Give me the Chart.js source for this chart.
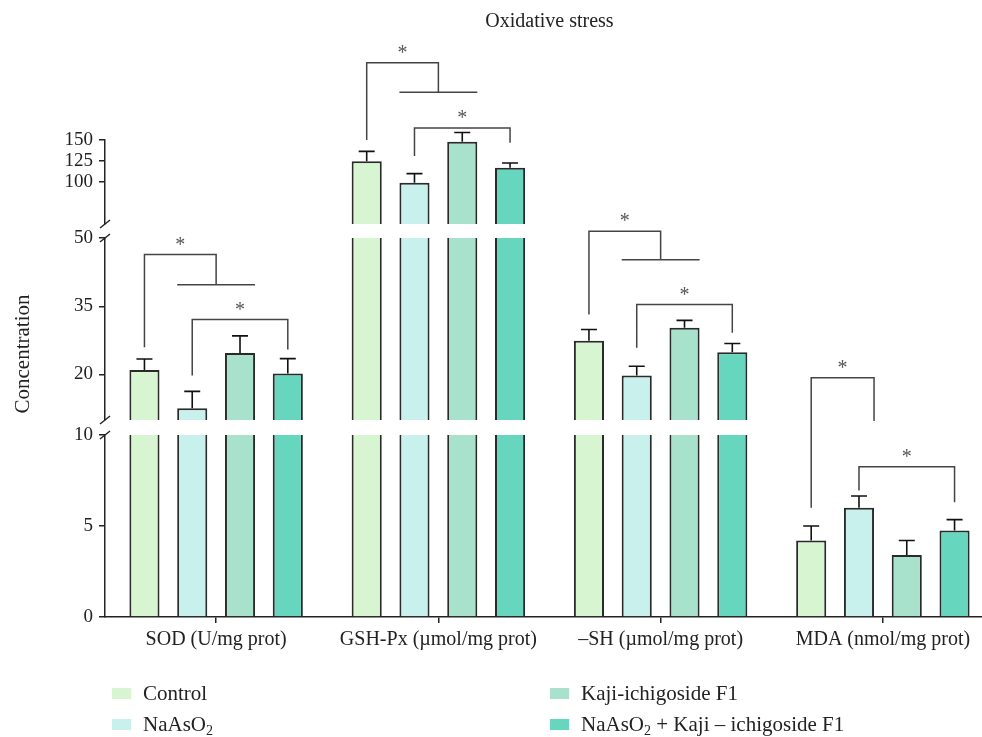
<!DOCTYPE html>
<html>
<head>
<meta charset="utf-8">
<script src="https://cdn.jsdelivr.net/npm/chart.js@4.4.1/dist/chart.umd.min.js"></script>
<style>
  html, body { margin: 0; padding: 0; background: #fff; }
  #wrap { position: relative; width: 982px; height: 737px; overflow: hidden; background: #fff; }
  #wrap canvas { position: absolute; left: 0; top: 0; }
  .item { position: absolute; display: flex; align-items: center; height: 24px;
          font-family: "Liberation Serif", serif; font-size: 21px; color: #222; white-space: nowrap; }
  .item .box { width: 19px; height: 11px; margin-right: 12px; }
  .item sub { font-size: 14px; vertical-align: -4px; line-height: 0; }
</style>
</head>
<body>
<div id="wrap"></div>
<script>
// categories and groups
var categories = ['SOD (U/mg prot)', 'GSH-Px (\u00b5mol/mg prot)', '\u2013SH (\u00b5mol/mg prot)', 'MDA (nmol/mg prot)'];
var groups = ['Control', 'NaAsO\u2082', 'Kaji-ichigoside F1', 'NaAsO\u2082 + Kaji \u2013 ichigoside F1'];
var groupsHtml = ['Control', 'NaAsO<sub>2</sub>', 'Kaji-ichigoside F1', 'NaAsO<sub>2</sub> + Kaji \u2013 ichigoside F1'];
var colors = ['#d8f5d2', '#c8f0ec', '#a8e2cc', '#66d6be'];

// means
var controlVals = [21.0, 124.6, 27.4, 4.2];
var naaso2Vals  = [12.6, 99.2, 19.8, 6.0];
var kajiVals    = [24.7, 148, 30.3, 3.4];
var comboVals   = [20.2, 117, 24.9, 4.75];
// upper error bars
var controlErr = [2.4, 11.9, 2.5, 0.8];
var naaso2Err  = [3.7, 10.8, 2.0, 0.65];
var kajiErr    = [3.8, 11, 1.6, 0.8];
var comboErr   = [3.3, 5.6, 1.9, 0.6];

// broken y axis: top / middle / bottom pieces
var segTicks = [[100, 125, 150], [20, 35, 50], [0, 5, 10]];
var segRange = [[50, 150], [10, 50], [0, 10]];

// significance brackets (y in data units of a segment: 0 top, 1 middle, 2 bottom)
var brackets = [
  { cat: 0, a: {d: 0}, b: 'mid', y: [1, 46.4], aEnd: [1, 26.0], bEnd: [1, 39.7], sub: [{d: 1, e: -0.5}, {d: 2, e: 0.5}] },
  { cat: 0, a: {d: 1}, b: {d: 3}, y: [1, 32.1], aEnd: [1, 19.8], bEnd: [1, 25.5] },
  { cat: 1, a: {d: 0}, b: 'mid', y: [0, 242], aEnd: [0, 150], bEnd: [0, 206.8], sub: [{d: 1, e: -0.5}, {d: 2, e: 0.5}] },
  { cat: 1, a: {d: 1}, b: {d: 3}, y: [0, 164.3], aEnd: [0, 131], bEnd: [0, 146.8] },
  { cat: 2, a: {d: 0}, b: 'mid', y: [1, 51.5], aEnd: [1, 33.2], bEnd: [1, 45.2], sub: [{d: 1, e: -0.5}, {d: 2, e: 0.5}] },
  { cat: 2, a: {d: 1}, b: {d: 3}, y: [1, 35.4], aEnd: [1, 25.9], bEnd: [1, 29.2] },
  { cat: 3, a: {d: 0}, b: {d: 1, e: 0.5}, y: [1, 19.3], aEnd: [2, 6.0], bEnd: [1, 9.8] },
  { cat: 3, a: {d: 1}, b: {d: 3}, y: [2, 8.25], aEnd: [2, 6.95], bEnd: [2, 6.3] }
];

var W = 1000, H = 737;
var areaTop = [140, 238, 435];
var areaBottom = [224, 420, 617];
var serif = '"Liberation Serif", serif';
var ink = '#222';
var charts = [];

function makeDatasets() {
  var vals = [controlVals, naaso2Vals, kajiVals, comboVals];
  var errs = [controlErr, naaso2Err, kajiErr, comboErr];
  return vals.map(function (v, i) {
    return {
      label: groups[i],
      data: v,
      errors: errs[i],
      backgroundColor: colors[i],
      borderColor: '#2a2a2a',
      borderWidth: 2,
      borderSkipped: 'start',
      barPercentage: 0.63,
      categoryPercentage: 0.86,
      clip: 0
    };
  });
}

// upward error bars
var errorBars = {
  id: 'errorBars',
  afterDatasetsDraw: function (chart) {
    var ctx = chart.ctx, ys = chart.scales.y;
    ctx.save();
    ctx.strokeStyle = '#111';
    ctx.lineWidth = 1.6;
    chart.data.datasets.forEach(function (ds, d) {
      chart.getDatasetMeta(d).data.forEach(function (bar, i) {
        var v = ds.data[i], e = ds.errors[i];
        if (v < ys.min || v > ys.max) return;
        var y0 = ys.getPixelForValue(v), y1 = ys.getPixelForValue(v + e);
        ctx.beginPath();
        ctx.moveTo(bar.x, y0);
        ctx.lineTo(bar.x, y1);
        ctx.moveTo(bar.x - 8, y1);
        ctx.lineTo(bar.x + 8, y1);
        ctx.stroke();
      });
    });
    ctx.restore();
  }
};

// slashes where the axis is broken
var axisBreaks = {
  id: 'axisBreaks',
  afterDraw: function (chart) {
    var idx = chart.options.segIndex, a = chart.chartArea, ctx = chart.ctx;
    var ends = [];
    if (idx > 0) ends.push(a.top);
    if (idx < 2) ends.push(a.bottom);
    ctx.save();
    ctx.strokeStyle = ink;
    ctx.lineWidth = 1.5;
    ends.forEach(function (y) {
      ctx.beginPath();
      ctx.moveTo(a.left - 5, y + 4);
      ctx.lineTo(a.left + 5, y - 4);
      ctx.stroke();
    });
    ctx.restore();
  }
};

function xOf(chart, spec, cat) {
  if (spec === 'mid') return chart.scales.x.getPixelForValue(cat);
  var bar = chart.getDatasetMeta(spec.d).data[cat];
  return bar.x + (spec.e || 0) * bar.width;
}
function yOf(chart, p) {
  var c = p[0] === 2 ? chart : charts[p[0]];
  return c.scales.y.getPixelForValue(p[1]);
}

var sigBrackets = {
  id: 'sigBrackets',
  afterDraw: function (chart) {
    if (chart.options.segIndex !== 2) return;
    var ctx = chart.ctx;
    ctx.save();
    ctx.strokeStyle = '#444';
    ctx.lineWidth = 1.5;
    ctx.fillStyle = '#555';
    ctx.font = '20px ' + serif;
    ctx.textAlign = 'center';
    ctx.textBaseline = 'middle';
    brackets.forEach(function (b) {
      var xa = xOf(chart, b.a, b.cat), xb = xOf(chart, b.b, b.cat);
      var y = yOf(chart, b.y), ya = yOf(chart, b.aEnd), yb = yOf(chart, b.bEnd);
      ctx.beginPath();
      ctx.moveTo(xa, ya);
      ctx.lineTo(xa, y);
      ctx.lineTo(xb, y);
      ctx.lineTo(xb, yb);
      if (b.sub) {
        ctx.moveTo(xOf(chart, b.sub[0], b.cat), yb);
        ctx.lineTo(xOf(chart, b.sub[1], b.cat), yb);
      }
      ctx.stroke();
      ctx.fillText('*', (xa + xb) / 2, y - 9);
    });
    ctx.restore();
  }
};

var yTitle = {
  id: 'yTitle',
  afterDraw: function (chart) {
    if (chart.options.segIndex !== 1) return;
    var ctx = chart.ctx;
    ctx.save();
    ctx.translate(23, 354);
    ctx.rotate(-Math.PI / 2);
    ctx.font = '21px ' + serif;
    ctx.fillStyle = ink;
    ctx.textAlign = 'center';
    ctx.textBaseline = 'middle';
    ctx.fillText('Concentration', 0, 0);
    ctx.restore();
  }
};

function xScale(idx) {
  if (idx === 0) {
    return {
      position: 'top',
      ticks: { display: false },
      grid: { display: false, drawTicks: false },
      border: { display: false },
      title: {
        display: true, text: 'Oxidative stress', color: ink,
        font: { family: serif, size: 20 },
        padding: { top: 10, bottom: areaTop[0] - 10 - 24 }
      }
    };
  }
  if (idx === 1) return { display: false };
  return {
    position: 'bottom',
    grid: { drawOnChartArea: false, offset: false, tickLength: 6, color: ink, lineWidth: 1.5 },
    border: { color: ink, width: 1.5 },
    ticks: { color: ink, font: { family: serif, size: 20 }, padding: 5, maxRotation: 0 },
    afterFit: function (s) { s.height = H - areaBottom[2]; }
  };
}

for (var k = 0; k < 3; k++) {
  (function (idx) {
    var canvas = document.createElement('canvas');
    canvas.width = W;
    canvas.height = H;
    document.getElementById('wrap').appendChild(canvas);
    var chart = new Chart(canvas.getContext('2d'), {
      type: 'bar',
      data: { labels: categories, datasets: makeDatasets() },
      options: {
        segIndex: idx,
        responsive: false,
        animation: false,
        layout: { padding: { top: idx === 0 ? 0 : areaTop[idx], bottom: idx === 2 ? 0 : H - areaBottom[idx], left: 0, right: 6 } },
        plugins: { legend: { display: false }, tooltip: { enabled: false }, title: { display: false } },
        scales: {
          x: xScale(idx),
          y: {
            min: segRange[idx][0],
            max: segRange[idx][1],
            afterBuildTicks: function (s) { s.ticks = segTicks[idx].map(function (v) { return { value: v }; }); },
            ticks: { color: ink, font: { family: serif, size: 19 }, padding: 6 },
            grid: { drawOnChartArea: false, tickLength: 6, color: ink, lineWidth: 1.5 },
            border: { color: ink, width: 1.5 },
            afterFit: function (s) { s.width = 105; }
          }
        }
      },
      plugins: [errorBars, axisBreaks, sigBrackets, yTitle]
    });
    charts.push(chart);
  })(k);
}

// legend, two columns
var legendPos = [[112, 681], [112, 712], [550, 681], [550, 712]];
groupsHtml.forEach(function (g, i) {
  var el = document.createElement('div');
  el.className = 'item';
  el.style.left = legendPos[i][0] + 'px';
  el.style.top = legendPos[i][1] + 'px';
  el.innerHTML = '<span class="box" style="background:' + colors[i] + '"></span><span>' + g + '</span>';
  document.getElementById('wrap').appendChild(el);
});
</script>
</body>
</html>
